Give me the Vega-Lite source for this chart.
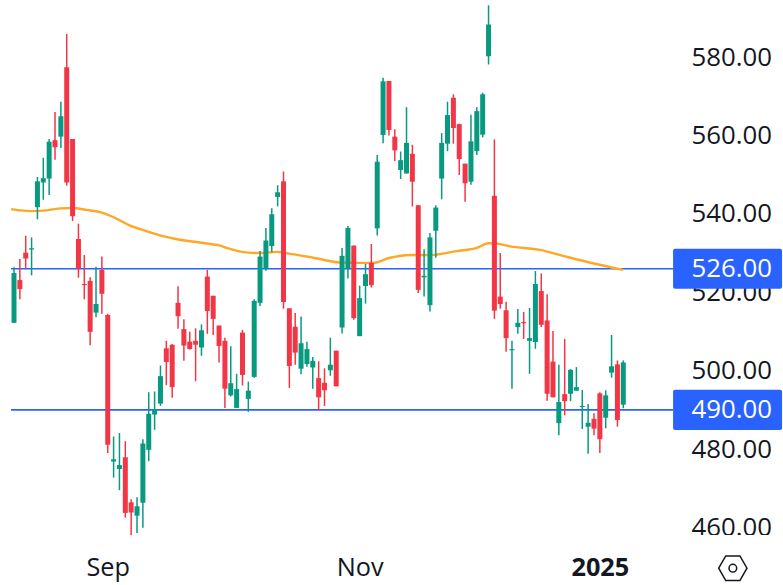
{"$schema":"https://vega.github.io/schema/vega-lite/v6.json","width":783,"height":585,"autosize":{"type":"none"},"padding":0,"background":"white","config":{"view":{"stroke":null},"font":"Open Sans"},
"datasets":{
"candles":[
{"d":0,"o":512.2,"h":526.4,"l":512.2,"c":524.9},{"d":1,"o":523.1,"h":528.5,"l":518.2,"c":520.8},{"d":2,"o":530.1,"h":534.4,"l":526.2,"c":528.6},{"d":3,"o":530.9,"h":534.0,"l":524.3,"c":531.2},{"d":4,"o":541.7,"h":549.4,"l":538.6,"c":548.3},{"d":5,"o":548.0,"h":554.3,"l":543.6,"c":549.1},{"d":6,"o":549.0,"h":559.1,"l":544.8,"c":558.4},{"d":7,"o":558.8,"h":566.0,"l":553.8,"c":557.0},{"d":8,"o":559.7,"h":568.6,"l":556.8,"c":564.9},{"d":9,"o":577.4,"h":585.9,"l":547.2,"c":548.0},
{"d":10,"o":559.1,"h":559.1,"l":538.2,"c":539.4},{"d":11,"o":533.6,"h":537.5,"l":523.7,"c":525.9},{"d":12,"o":522.1,"h":529.5,"l":518.2,"c":521.8},{"d":13,"o":522.9,"h":523.8,"l":506.5,"c":509.9},{"d":14,"o":514.8,"h":526.5,"l":513.6,"c":517.0},{"d":15,"o":525.7,"h":529.1,"l":514.5,"c":519.6},{"d":16,"o":514.2,"h":514.5,"l":479.0,"c":481.1},{"d":17,"o":476.8,"h":483.2,"l":472.7,"c":477.4},{"d":18,"o":474.9,"h":484.1,"l":469.5,"c":475.9},{"d":19,"o":477.9,"h":482.0,"l":462.5,"c":463.7},
{"d":20,"o":466.4,"h":467.2,"l":458.0,"c":463.8},{"d":21,"o":463.0,"h":467.7,"l":458.6,"c":465.4},{"d":22,"o":466.3,"h":482.5,"l":459.9,"c":481.4},{"d":23,"o":479.8,"h":494.5,"l":476.9,"c":489.0},{"d":24,"o":488.8,"h":494.7,"l":484.9,"c":490.1},{"d":25,"o":491.6,"h":501.3,"l":491.0,"c":498.6},{"d":26,"o":505.7,"h":507.6,"l":496.3,"c":502.2},{"d":27,"o":506.6,"h":506.8,"l":493.1,"c":495.8},{"d":28,"o":517.3,"h":521.5,"l":510.7,"c":513.9},{"d":29,"o":510.6,"h":513.1,"l":502.5,"c":506.4},
{"d":30,"o":507.4,"h":509.9,"l":505.4,"c":505.5},{"d":31,"o":507.6,"h":510.8,"l":497.3,"c":506.6},{"d":32,"o":505.9,"h":511.8,"l":503.8,"c":510.3},{"d":33,"o":524.0,"h":525.7,"l":509.4,"c":515.2},{"d":34,"o":519.1,"h":519.1,"l":509.1,"c":513.2},{"d":35,"o":511.5,"h":511.5,"l":502.1,"c":506.3},{"d":36,"o":507.6,"h":508.4,"l":490.5,"c":495.4},{"d":37,"o":493.7,"h":506.2,"l":493.4,"c":496.8},{"d":38,"o":490.5,"h":499.2,"l":490.5,"c":495.3},{"d":39,"o":509.7,"h":510.4,"l":496.2,"c":498.9},
{"d":40,"o":492.8,"h":497.2,"l":489.5,"c":494.9},{"d":41,"o":498.4,"h":518.2,"l":498.2,"c":517.8},{"d":42,"o":517.3,"h":530.5,"l":516.5,"c":529.1},{"d":43,"o":525.9,"h":536.4,"l":525.5,"c":533.2},{"d":44,"o":531.8,"h":541.4,"l":530.2,"c":539.9},{"d":45,"o":544.3,"h":547.3,"l":541.9,"c":545.5},{"d":46,"o":548.3,"h":550.8,"l":515.8,"c":517.5},{"d":47,"o":515.9,"h":515.9,"l":495.6,"c":501.2},{"d":48,"o":511.2,"h":514.7,"l":501.5,"c":504.6},{"d":49,"o":500.5,"h":513.8,"l":499.1,"c":507.0},
{"d":50,"o":501.7,"h":507.4,"l":501.0,"c":505.5},{"d":51,"o":500.8,"h":503.5,"l":495.4,"c":502.5},{"d":52,"o":498.1,"h":502.4,"l":489.9,"c":493.2},{"d":53,"o":496.9,"h":500.6,"l":491.0,"c":495.0},{"d":54,"o":500.1,"h":508.4,"l":498.7,"c":501.5},{"d":55,"o":505.1,"h":505.1,"l":496.0,"c":496.0},{"d":56,"o":511.0,"h":531.3,"l":509.5,"c":529.3},{"d":57,"o":526.0,"h":536.9,"l":523.5,"c":536.4},{"d":58,"o":531.9,"h":531.9,"l":513.0,"c":513.4},{"d":59,"o":508.8,"h":521.7,"l":508.8,"c":518.5},
{"d":60,"o":521.6,"h":527.2,"l":517.1,"c":524.6},{"d":61,"o":527.5,"h":532.3,"l":521.2,"c":521.8},{"d":62,"o":536.3,"h":555.0,"l":534.5,"c":553.3},{"d":63,"o":560.1,"h":574.7,"l":558.0,"c":573.8},{"d":64,"o":573.9,"h":573.9,"l":560.0,"c":561.4},{"d":65,"o":559.7,"h":561.6,"l":553.5,"c":556.2},{"d":66,"o":551.2,"h":555.9,"l":548.9,"c":553.7},{"d":67,"o":550.3,"h":567.2,"l":550.3,"c":558.1},{"d":68,"o":555.3,"h":557.6,"l":541.9,"c":548.2},{"d":69,"o":542.2,"h":542.2,"l":519.8,"c":520.6},
{"d":70,"o":523.8,"h":531.0,"l":518.9,"c":524.2},{"d":71,"o":516.7,"h":535.1,"l":515.1,"c":534.0},{"d":72,"o":535.7,"h":542.2,"l":528.8,"c":541.6},{"d":73,"o":549.0,"h":560.6,"l":543.7,"c":558.1},{"d":74,"o":557.9,"h":568.6,"l":556.0,"c":565.2},{"d":75,"o":569.6,"h":570.5,"l":557.9,"c":561.9},{"d":76,"o":562.9,"h":563.0,"l":549.9,"c":554.0},{"d":77,"o":552.8,"h":552.8,"l":543.1,"c":547.8},{"d":78,"o":548.2,"h":565.3,"l":547.4,"c":558.5},{"d":79,"o":556.0,"h":567.2,"l":555.0,"c":566.2},
{"d":80,"o":560.2,"h":570.9,"l":559.5,"c":570.5},{"d":81,"o":580.2,"h":593.2,"l":578.1,"c":588.3},{"d":82,"o":544.6,"h":559.0,"l":513.2,"c":515.3},{"d":83,"o":518.9,"h":530.0,"l":515.8,"c":517.0},{"d":84,"o":515.4,"h":517.6,"l":504.8,"c":508.3},{"d":85,"o":505.2,"h":507.6,"l":495.4,"c":505.5},{"d":86,"o":511.1,"h":515.7,"l":509.4,"c":512.2},{"d":87,"o":512.4,"h":515.0,"l":508.1,"c":512.1},{"d":88,"o":507.6,"h":516.0,"l":499.2,"c":508.3},{"d":89,"o":507.3,"h":525.4,"l":505.6,"c":522.1},
{"d":90,"o":520.3,"h":524.8,"l":511.1,"c":511.7},{"d":91,"o":512.8,"h":519.5,"l":492.3,"c":494.1},{"d":92,"o":502.3,"h":510.1,"l":493.2,"c":493.2},{"d":93,"o":486.6,"h":501.5,"l":483.5,"c":492.0},{"d":94,"o":494.0,"h":508.1,"l":488.6,"c":492.2},{"d":95,"o":494.1,"h":500.4,"l":492.2,"c":500.2},{"d":96,"o":494.9,"h":500.9,"l":494.8,"c":495.8},{"d":97,"o":490.7,"h":495.1,"l":485.1,"c":491.0},{"d":98,"o":485.7,"h":491.5,"l":478.8,"c":486.7},{"d":99,"o":487.7,"h":489.1,"l":483.5,"c":485.2},
{"d":100,"o":494.2,"h":494.5,"l":479.0,"c":482.5},{"d":101,"o":488.0,"h":495.0,"l":485.3,"c":493.7},{"d":102,"o":499.5,"h":509.1,"l":498.2,"c":501.1},{"d":103,"o":501.6,"h":502.6,"l":485.7,"c":487.4},{"d":104,"o":491.3,"h":502.6,"l":490.4,"c":502.1}],
"ma":[{"d":-0.5,"v":541.2},{"d":1,"v":540.9},{"d":3,"v":540.7},{"d":5.6,"v":540.9},{"d":8,"v":541.4},{"d":10,"v":541.5},{"d":12.4,"v":541.0},{"d":15,"v":540.3},{"d":17.2,"v":539.0},{"d":19.8,"v":537.0},{"d":22.6,"v":535.6},{"d":25.4,"v":534.3},{"d":28.3,"v":533.4},{"d":31.7,"v":532.7},{"d":33.5,"v":532.3},{"d":35.2,"v":531.9},{"d":36.3,"v":531.3},{"d":40,"v":530.1},{"d":42,"v":530.0},{"d":44.8,"v":530.3},{"d":47.1,"v":529.8},{"d":50.5,"v":529.0},{"d":55.6,"v":527.6},{"d":58.5,"v":527.5},{"d":61.3,"v":527.5},{"d":64.2,"v":528.8},{"d":67.6,"v":529.5},{"d":71,"v":529.5},{"d":75.6,"v":530.5},{"d":79,"v":531.3},{"d":81,"v":532.5},{"d":82.4,"v":532.4},{"d":84.7,"v":531.7},{"d":89.8,"v":530.8},{"d":93.7,"v":529.3},{"d":98.8,"v":527.4},{"d":104,"v":525.7}],
"levels":[{"level":526},{"level":490}]},
"layer":[
{"data":{"name":"levels"},"mark":{"type":"rule","color":"#2962ff","strokeWidth":1.7},"encoding":{"x":{"datum":-0.512,"type":"quantitative"},"x2":{"datum":112.48},"y":{"field":"level","type":"quantitative"}}},
{"data":{"name":"ma"},"mark":{"type":"line","color":"#ffa726","strokeWidth":2.4,"interpolate":"monotone"},"encoding":{"x":{"field":"d","type":"quantitative"},"y":{"field":"v","type":"quantitative"}}},
{"data":{"name":"candles"},"mark":{"type":"rule","strokeWidth":1.5},"encoding":{
"x":{"field":"d","type":"quantitative","title":null,"scale":{"domain":[-1.536,130.41],"nice":false,"zero":false},"axis":{"values":[16,59,100],"labelExpr":"datum.value==16?'Sep':datum.value==59?'Nov':'2025'","labelFontSize":25.3,"labelColor":"#131722","labelFontWeight":{"condition":{"test":"datum.value==100","value":"bold"},"value":"normal"},"ticks":false,"domain":false,"grid":false,"labelPadding":19,"title":null,"labelFlush":false,"offset":-48.2}},
"y":{"field":"h","type":"quantitative","title":null,"scale":{"domain":[446.59,593.28],"nice":false,"zero":false},"axis":{"orient":"right","values":[460,480,500,520,540,560,580],"format":".2f","labelFontSize":25.8,"labelColor":"#131722","ticks":false,"domain":false,"grid":false,"labelPadding":0,"title":null,"labelFlush":false,"offset":-92}},
"y2":{"field":"l"},
"color":{"condition":{"test":"datum.c<datum.o","value":"#f23645"},"value":"#089981"}}},
{"data":{"name":"candles"},"mark":{"type":"bar","size":5,"orient":"vertical"},"encoding":{"x":{"field":"d","type":"quantitative"},"y":{"field":"o","type":"quantitative"},"y2":{"field":"c"},"color":{"condition":{"test":"datum.c<datum.o","value":"#f23645"},"value":"#089981"}}},
{"data":{"values":[{"a":1}]},"mark":{"type":"rect","color":"white"},"encoding":{"x":{"datum":113},"x2":{"datum":130},"y":{"datum":458.05},"y2":{"datum":455}}},
{"data":{"name":"levels"},"mark":{"type":"bar","size":40.2,"orient":"horizontal","color":"#2962ff","cornerRadius":2},"encoding":{"x":{"datum":112.5,"type":"quantitative"},"x2":{"datum":131.1},"y":{"field":"level","type":"quantitative"}}},
{"data":{"name":"levels"},"mark":{"type":"text","color":"white","fontSize":25.8,"align":"center","baseline":"middle"},"encoding":{"x":{"datum":122.5,"type":"quantitative"},"y":{"field":"level","type":"quantitative"},"text":{"field":"level","format":".2f","type":"quantitative"}}},
{"data":{"values":[{"d":122.7,"v":449.6}]},"mark":{"type":"point","shape":"M-1,0L-0.5,-0.87L0.5,-0.87L1,0L0.5,0.87L-0.5,0.87Z","size":800,"filled":false,"stroke":"#131722","strokeWidth":1.5,"opacity":1},"encoding":{"x":{"field":"d","type":"quantitative"},"y":{"field":"v","type":"quantitative"}}},
{"data":{"values":[{"d":122.7,"v":449.6}]},"mark":{"type":"point","shape":"circle","size":59,"filled":false,"stroke":"#131722","strokeWidth":1.5,"opacity":1},"encoding":{"x":{"field":"d","type":"quantitative"},"y":{"field":"v","type":"quantitative"}}}
]}
